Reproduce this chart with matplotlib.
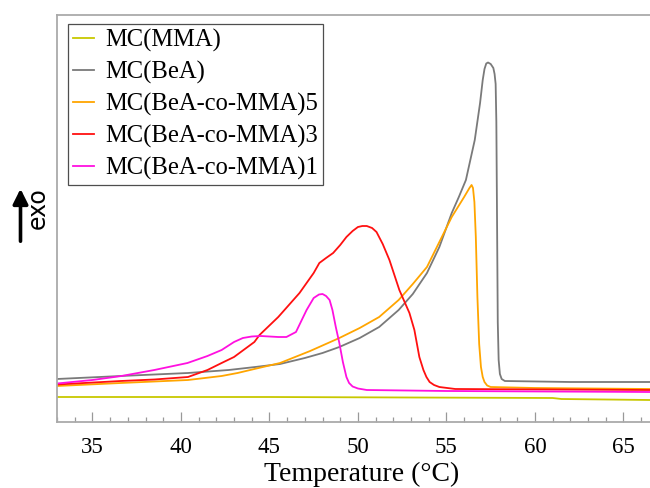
import matplotlib
matplotlib.use("Agg")
import matplotlib.pyplot as plt
from matplotlib.ticker import MultipleLocator

# ---- data (temperature in °C, heat flow in arbitrary units, exo up) ----
mma_T = [33.0, 45.0, 61.0, 61.5, 66.5]
mma_y = [0.25, 0.25, 0.24, 0.23, 0.22]

bea_T = [33.0, 36.6, 40.4, 42.7, 44.2, 45.6, 47.0, 48.0, 48.95, 50.1, 51.2, 52.3,
         53.1, 53.9, 54.6, 55.3, 55.7, 56.1, 56.6, 56.9, 57.05, 57.15, 57.25,
         57.35, 57.5, 57.65, 57.72, 57.78, 57.82, 57.86, 57.9, 57.95, 58.02,
         58.12, 58.3, 62.0, 66.5]
bea_y = [0.43, 0.46, 0.49, 0.52, 0.55, 0.58, 0.64, 0.69, 0.75, 0.84, 0.95, 1.12,
         1.28, 1.49, 1.75, 2.09, 2.25, 2.42, 2.82, 3.19, 3.42, 3.53, 3.585,
         3.595, 3.58, 3.54, 3.48, 3.38, 3.0, 2.0, 1.0, 0.62, 0.48,
         0.43, 0.41, 0.40, 0.40]

co5_T = [33.0, 36.6, 38.5, 40.4, 42.3, 43.2, 44.15, 45.6, 47.3, 48.95, 50.1, 51.2,
         52.3, 53.1, 53.9, 54.6, 55.3, 56.0, 56.3, 56.42, 56.5, 56.58, 56.66,
         56.75, 56.85, 56.95, 57.05, 57.15, 57.3, 57.5, 60.0, 66.5]
co5_y = [0.36, 0.39, 0.405, 0.42, 0.46, 0.49, 0.53, 0.59, 0.71, 0.84, 0.94, 1.05,
         1.22, 1.38, 1.55, 1.80, 2.05, 2.25, 2.34, 2.37, 2.34, 2.20, 1.85,
         1.25, 0.78, 0.55, 0.45, 0.40, 0.365, 0.35, 0.34, 0.33]

co3_T = [33.0, 36.6, 38.5, 40.4, 41.5, 42.3, 43.0, 44.15, 44.44, 45.5, 46.7, 47.5,
         47.82, 48.2, 48.6, 49.0, 49.35, 49.7, 50.0, 50.25, 50.5, 50.8, 51.05,
         51.4, 51.78, 52.34, 52.91, 53.19, 53.47, 53.7, 53.87, 54.05, 54.3,
         54.6, 55.5, 66.5]
co3_y = [0.375, 0.41, 0.425, 0.45, 0.52, 0.59, 0.65, 0.80, 0.87, 1.05, 1.29, 1.49,
         1.59, 1.64, 1.69, 1.77, 1.85, 1.91, 1.95, 1.96, 1.96, 1.94, 1.90,
         1.78, 1.62, 1.32, 1.09, 0.92, 0.65, 0.52, 0.45, 0.40, 0.37,
         0.35, 0.33, 0.32]

co1_T = [33.0, 35.0, 36.64, 38.5, 40.37, 41.5, 42.3, 43.0, 43.5, 44.0, 44.5, 45.5,
         45.96, 46.5, 47.1, 47.5, 47.8, 48.0, 48.2, 48.4, 48.56, 48.75, 48.95,
         49.15, 49.35, 49.5, 49.7, 50.0, 50.5, 55.0, 66.5]
co1_y = [0.385, 0.42, 0.46, 0.52, 0.59, 0.66, 0.72, 0.80, 0.84, 0.855, 0.86, 0.85,
         0.85, 0.90, 1.12, 1.24, 1.275, 1.28, 1.26, 1.22, 1.12, 0.95, 0.79,
         0.60, 0.45, 0.39, 0.355, 0.335, 0.32, 0.31, 0.30]

labels = ["MC(MMA)", "MC(BeA)", "MC(BeA-co-MMA)5", "MC(BeA-co-MMA)3", "MC(BeA-co-MMA)1"]
colors = ["#c8c800", "#7a7a7a", "#ffa500", "#ff1010", "#ff10e0"]
xticks = [35, 40, 45, 50, 55, 60, 65]

fig = plt.figure(figsize=(6.5, 4.88), dpi=100)
ax = fig.add_axes([57 / 650, 1 - 422 / 488, 1 - 57 / 650, (422 - 15) / 488])

series = [(mma_T, mma_y), (bea_T, bea_y), (co5_T, co5_y), (co3_T, co3_y), (co1_T, co1_y)]
for (t, y), lab, c in zip(series, labels, colors):
    ax.plot(t, y, color=c, lw=1.3, label=lab, solid_joinstyle="round")

ax.set_xlim(33.0, 66.5)
ax.set_ylim(0.0, 4.07)
ax.set_xticks(xticks)
ax.xaxis.set_minor_locator(MultipleLocator(1))
ax.set_yticks([])

serif = ["Liberation Serif", "DejaVu Serif"]
ax.tick_params(axis="x", which="major", direction="in", length=7, width=0.9,
               color="#999999", pad=11, labelsize=16.5)
ax.tick_params(axis="x", which="minor", direction="in", length=3.5, width=0.9,
               color="#999999")
for lbl in ax.get_xticklabels():
    lbl.set_fontfamily(serif)

for side in ["left", "top", "bottom"]:
    ax.spines[side].set_color("#aaaaaa")
    ax.spines[side].set_linewidth(1.3)
ax.spines["right"].set_visible(False)

ax.set_xlabel("Temperature (°C)", fontsize=20, family=serif)
ax.xaxis.set_label_coords((361.5 - 57) / 593, -(462 - 422) / 407, transform=ax.transAxes)
ax.xaxis.label.set_verticalalignment("top")

leg = ax.legend(loc="upper left", bbox_to_anchor=(11 / 593, 1 - 9 / 407),
                prop={"family": serif, "size": 17.7}, frameon=True, fancybox=False,
                edgecolor="#222222", handlelength=0.85, handletextpad=0.45,
                labelspacing=0.36, borderpad=0.2, borderaxespad=0.0)
leg.get_frame().set_linewidth(0.9)

# y-axis indicator: arrow + "exo"
fig.add_artist(matplotlib.patches.FancyArrowPatch(
    (20.5 / 650, 1 - 244 / 488), (20.5 / 650, 1 - 186 / 488),
    transform=fig.transFigure, arrowstyle="-|>,head_length=9,head_width=4.5",
    color="black", lw=2.6, mutation_scale=1.0))
fig.text(38 / 650, 1 - 208 / 488, "exo", rotation=90, fontsize=17,
         family="DejaVu Sans", ha="center", va="center")

fig.savefig("out.png", dpi=100)
